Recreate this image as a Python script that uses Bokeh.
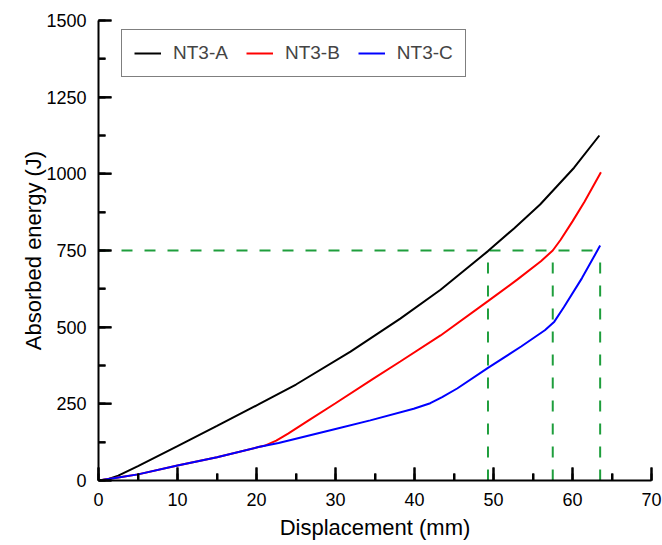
from bokeh.plotting import figure
from bokeh.models import Range1d, SingleIntervalTicker, Legend, LegendItem
from bokeh.embed import file_html
from bokeh.resources import INLINE

# Data
a_x = [0, 1, 2.5, 5, 10, 15, 20.25, 25, 31.9, 38.2, 43.3, 49.3, 52.6, 55.9, 60.2, 63.4]
a_y = [0, 3, 16, 47, 112, 178, 248, 313, 420, 528, 622, 748, 822, 900, 1020, 1125]

b_x = [0, 2.5, 5, 10, 15, 20.25, 21, 22.5, 24, 26.6, 30, 34.85, 38.2, 43.3, 49.3, 53, 56, 57.5, 58.5, 60, 61.5, 63.6]
b_y = [0, 10, 20, 49, 76, 109, 113, 130, 153, 196, 252, 333, 388, 473, 585, 655, 715, 750, 785, 845, 908, 1005]

c_x = [0, 2.5, 5, 10, 15, 20.25, 22.8, 30, 34.4, 39.9, 42, 43.5, 45.4, 49.3, 53.5, 56.5, 57.7, 58.9, 61.2, 63.5]
c_y = [0, 10, 20, 49, 76, 109, 122, 168, 196, 234, 252, 272, 300, 367, 437, 490, 518, 565, 660, 766]

threshold = 750
cross_x = [49.3, 57.5, 63.5]

names = ["NT3-A", "NT3-B", "NT3-C"]
colors = ["black", "red", "blue"]

x_major = [0, 10, 20, 30, 40, 50, 60, 70]
x_minor = [5, 15, 25, 35, 45, 55, 65]
y_major = [0, 250, 500, 750, 1000, 1250, 1500]
y_minor = [125, 375, 625, 875, 1125, 1375]

FONT = "Liberation Sans"
GREEN = "#1E9E3C"
X0, X1, Y0, Y1 = 0, 70, 0, 1500
FRAME_W, FRAME_H = 553, 460
MAJ, MIN = 13, 7  # tick lengths in px
TICK_COLOR = "black"

p = figure(width=662, height=545, output_backend="svg", toolbar_location=None,
           x_range=Range1d(X0, X1), y_range=Range1d(Y0, Y1),
           min_border_left=98, min_border_right=11, min_border_top=20, min_border_bottom=65)
p.outline_line_color = None
p.xgrid.visible = False
p.ygrid.visible = False

# dashed guides
p.line([0, cross_x[-1]], [threshold, threshold], line_color=GREEN, line_width=2, line_dash="11 12")
for cx in cross_x:
    p.line([cx, cx], [0, threshold], line_color=GREEN, line_width=2, line_dash="11 12")

r1 = p.line(a_x, a_y, line_color=colors[0], line_width=2)
r2 = p.line(b_x, b_y, line_color=colors[1], line_width=2)
r3 = p.line(c_x, c_y, line_color=colors[2], line_width=2)

# inward ticks, drawn on the overlay level so nothing covers them
ypx = (Y1 - Y0) / FRAME_H
xpx = (X1 - X0) / FRAME_W
for v in x_major:
    p.line([v, v], [Y0, Y0 + MAJ * ypx], line_color=TICK_COLOR, line_width=2, level="overlay")
for v in x_minor:
    p.line([v, v], [Y0, Y0 + MIN * ypx], line_color=TICK_COLOR, line_width=2, level="overlay")
for v in y_major:
    p.line([X0, X0 + MAJ * xpx], [v, v], line_color=TICK_COLOR, line_width=2, level="overlay")
for v in y_minor:
    p.line([X0, X0 + MIN * xpx], [v, v], line_color=TICK_COLOR, line_width=2, level="overlay")

p.xaxis.ticker = SingleIntervalTicker(interval=10, num_minor_ticks=2)
p.yaxis.ticker = SingleIntervalTicker(interval=250, num_minor_ticks=2)
p.xaxis.axis_label = "Displacement (mm)"
p.yaxis.axis_label = "Absorbed energy (J)"
for ax in (p.xaxis, p.yaxis):
    ax.axis_line_width = 2
    ax.major_tick_in = MAJ
    ax.major_tick_out = 0
    ax.minor_tick_in = MIN
    ax.minor_tick_out = 0
    ax.major_tick_line_width = 2
    ax.minor_tick_line_width = 2
    ax.major_tick_line_color = "black"
    ax.minor_tick_line_color = "black"
    ax.major_label_text_font = FONT
    ax.major_label_text_font_size = "18px"
    ax.major_label_text_color = "black"
    ax.axis_label_text_font = FONT
    ax.axis_label_text_font_size = "22px"
    ax.axis_label_text_font_style = "normal"
    ax.axis_label_text_color = "black"
    ax.axis_line_color = "black"
p.xaxis.major_label_standoff = 12
p.yaxis.major_label_standoff = 12
p.xaxis.axis_label_standoff = 6
p.yaxis.axis_label_standoff = -3

legend = Legend(items=[LegendItem(label=names[0], renderers=[r1]),
                       LegendItem(label=names[1], renderers=[r2]),
                       LegendItem(label=names[2], renderers=[r3])],
                orientation="horizontal", location=(23, 403))
legend.label_text_font = FONT
legend.label_text_font_size = "19px"
legend.glyph_width = 27
legend.glyph_height = 20
legend.label_standoff = 12
legend.spacing = 18
legend.padding = 12
legend.margin = 0
legend.border_line_color = "black"
legend.border_line_width = 1
legend.background_fill_alpha = 1
p.add_layout(legend, "center")

open("out.html", "w").write(file_html(p, INLINE))
